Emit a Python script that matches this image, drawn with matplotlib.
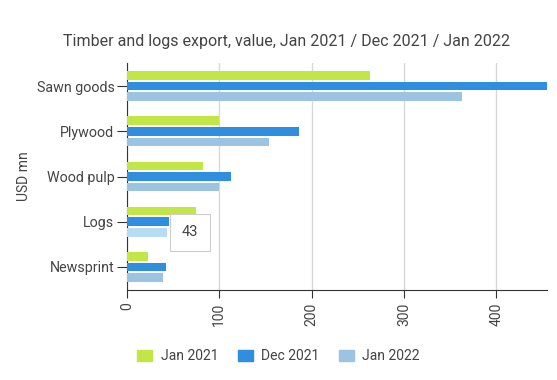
import numpy as np
import matplotlib.pyplot as plt
from matplotlib.patches import Patch

plt.rcParams['font.family'] = ['Roboto', 'DejaVu Sans']

categories = ["Sawn goods", "Plywood", "Wood pulp", "Logs", "Newsprint"]
series_names = ["Jan 2021", "Dec 2021", "Jan 2022"]
jan_2021 = [263, 100, 82, 75, 23]
dec_2021 = [455, 186, 113, 46, 42]
jan_2022 = [363, 154, 100, 43, 39]
colors = ["#c3e647", "#2f8edf", "#9cc4e2"]

fig = plt.figure(figsize=(5.57, 3.80), dpi=100)
ax = fig.add_axes([0.228, 0.237, 0.754, 0.597])

y = np.arange(len(categories))
offsets = [-0.235, 0.0, 0.235]
h = 0.19
for vals, off, c in zip([jan_2021, dec_2021, jan_2022], offsets, colors):
    bar_colors = [c] * len(vals)
    if vals is jan_2022:
        bar_colors[3] = "#b8dcf4"  # hovered bar
    ax.barh(y + off, vals, height=h, color=bar_colors, zorder=3)

ax.set_ylim(4.51, -0.51)
ax.set_xlim(0, 455)
ax.set_yticks(y)
ax.set_yticklabels(categories, fontsize=10.3, color="#444444")
ax.set_xticks([0, 100, 200, 300, 400])
ax.set_xticklabels(["0", "100", "200", "300", "400"], rotation=90, fontsize=10, color="#444444")
ax.tick_params(axis="y", length=7, color="#333333", pad=2)
ax.tick_params(axis="x", length=6, color="#333333", pad=3)
ax.grid(axis="x", color="#d8d8d8", linewidth=1, zorder=0)
for s in ["top", "right"]:
    ax.spines[s].set_visible(False)
for s in ["left", "bottom"]:
    ax.spines[s].set_color("#333333")
ax.set_ylabel("USD mn", fontsize=10, color="#444444", labelpad=4)

fig.text(0.515, 0.89, "Timber and logs export, value, Jan 2021 / Dec 2021 / Jan 2022",
         fontsize=11.5, color="#444444", ha="center", va="center")

# tooltip for the hovered bar
ax.annotate(str(jan_2022[3]), xy=(jan_2022[3], 3 + offsets[2]), xytext=(17, 0),
            textcoords="offset points", fontsize=10.5, color="#444444",
            ha="center", va="center",
            bbox=dict(boxstyle="square,pad=0.8", fc="white", ec="#cccccc", lw=0.8),
            zorder=5)

handles = [Patch(color=c) for c in colors]
fig.legend(handles, series_names, loc="center", bbox_to_anchor=(0.5, 0.063), ncol=3,
           frameon=False, fontsize=10, handlelength=1.1, handleheight=0.9,
           columnspacing=1.4, handletextpad=0.6, labelcolor="#444444")

fig.savefig("out.png", dpi=100, facecolor="white")
